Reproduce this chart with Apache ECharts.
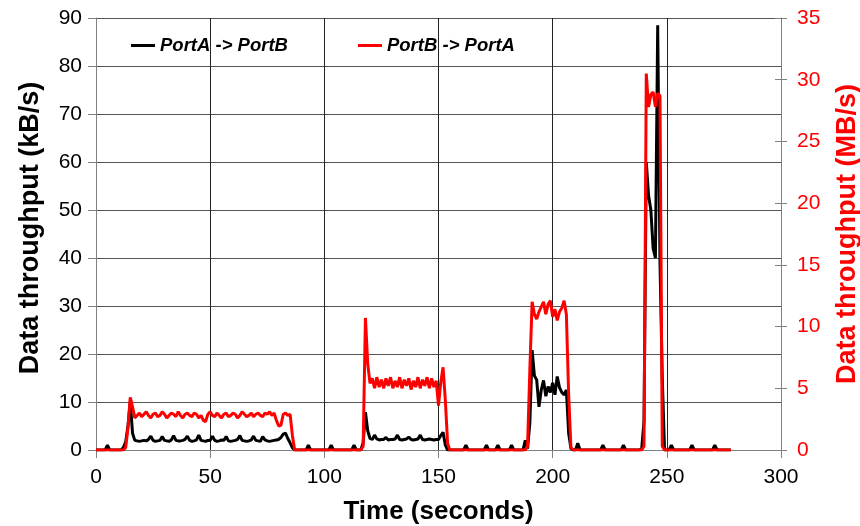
<!DOCTYPE html>
<html>
<head>
<meta charset="utf-8">
<script src="https://cdn.jsdelivr.net/npm/echarts@6/dist/echarts.min.js"></script>
<style>
  html, body { margin: 0; padding: 0; background: #fff; }
  #chart { width: 860px; height: 526px; }
</style>
</head>
<body>
<div id="chart"></div>
<script>
// One sample per second, starting at t = 0 s.
const sampleStep = 1;

// PortA -> PortB throughput, kB/s (left axis)
const portAtoB = [
  0, 0, 0, 0, 0, 1.0, 0, 0, 0, 0,
  0, 0, 0.5, 1.7, 5.0, 10.1, 3.5, 2.0, 1.9, 1.8,
  1.9, 2.0, 1.9, 2.2, 2.9, 2.0, 1.8, 1.9, 2.0, 2.8,
  2.0, 1.9, 1.8, 2.1, 3.0, 2.0, 1.9, 1.9, 2.0, 2.2,
  2.9, 2.0, 1.8, 1.9, 2.1, 3.1, 2.0, 1.9, 1.8, 2.0,
  2.0, 2.9, 2.0, 1.8, 1.9, 2.1, 2.0, 2.8, 1.9, 1.8,
  1.9, 2.0, 2.2, 3.0, 2.0, 1.9, 1.8, 1.9, 2.1, 2.9,
  2.0, 1.9, 1.8, 2.8, 2.1, 1.9, 1.8, 1.9, 2.0, 2.1,
  2.2, 2.6, 3.3, 3.5, 2.4, 1.5, 0.5, 0, 0, 0,
  0, 0, 0, 1.0, 0, 0, 0, 0, 0, 0,
  0, 0, 0, 1.0, 0, 0, 0, 0, 0, 0,
  0, 0, 0, 1.0, 0, 0, 0, 1.5, 7.9, 4.0,
  2.4, 2.2, 3.1, 2.3, 2.1, 2.2, 2.2, 2.6, 2.1, 2.2,
  2.2, 2.3, 3.1, 2.2, 2.1, 2.2, 2.3, 2.7, 2.2, 2.1,
  2.2, 2.3, 3.1, 2.2, 2.1, 2.2, 2.3, 2.2, 2.1, 2.2,
  2.2, 3.0, 3.7, 1.0, 0, 0, 0, 0, 0, 0,
  0, 0, 1.0, 0, 0, 0, 0, 0, 0, 0,
  0, 1.0, 0, 0, 0, 0, 1.0, 0, 0, 0,
  0, 0, 1.0, 0, 0, 0, 0, 0, 2.0, 0.3,
  5.6, 20.8, 15.5, 14.6, 9.0, 12.5, 14.5, 11.2, 13.2, 12.0,
  14.0, 11.5, 15.3, 13.0, 12.0, 11.5, 12.5, 3.5, 0.3, 0,
  0, 1.4, 0, 0, 0, 0, 0, 0, 0, 0,
  0, 0, 1.0, 0, 0, 0, 0, 0, 0, 0,
  0, 1.0, 0, 0, 0, 0, 0, 0, 0, 0.3,
  6.0, 60, 53, 50, 42, 40, 88.5, 39, 15, 0,
  0, 0, 1.0, 0, 0, 0, 0, 0, 0, 0,
  0, 1.0, 0, 0, 0, 0, 0, 0, 0, 0,
  0, 1.0, 0, 0, 0, 0, 0, 0, 0
];

// PortB -> PortA throughput, MB/s (right axis)
const portBtoA = [
  0, 0, 0, 0, 0, 0, 0, 0, 0, 0,
  0, 0, 0, 0.2, 1.8, 4.27, 3.5, 2.6, 2.8, 3.0,
  2.7, 2.9, 3.1, 2.8, 2.6, 2.9, 3.0, 2.7, 2.8, 3.1,
  2.9, 2.6, 2.8, 3.0, 2.9, 2.7, 3.1, 2.8, 2.6, 2.9,
  3.0, 2.8, 2.7, 3.0, 2.9, 2.6, 2.8, 2.4, 2.3, 2.9,
  3.1, 2.8, 2.7, 3.0, 2.8, 2.6, 2.9, 3.0, 2.7, 2.8,
  3.0, 2.9, 2.6, 2.8, 3.1, 2.9, 2.7, 2.8, 3.0, 2.7,
  2.9, 3.0, 2.8, 2.7, 3.0, 2.9, 3.1, 2.8, 3.0, 2.4,
  1.95, 2.0, 2.9, 3.0, 2.8, 2.9, 1.2, 0, 0, 0,
  0, 0, 0, 0, 0, 0, 0, 0, 0, 0,
  0, 0, 0, 0, 0, 0, 0, 0, 0, 0,
  0, 0, 0, 0, 0, 0, 0, 0.3, 10.7, 7.0,
  5.4, 5.8, 5.0, 5.9, 5.1, 5.7, 5.0, 5.8, 5.2, 5.9,
  5.0, 5.6, 5.1, 5.9, 5.0, 5.7, 5.2, 5.8, 4.9, 5.6,
  5.1, 5.9, 5.0, 5.7, 5.2, 5.9, 5.0, 5.8, 5.1, 5.6,
  3.6, 5.5, 6.7, 4.0, 0.5, 0, 0, 0, 0, 0,
  0, 0, 0, 0, 0, 0, 0, 0, 0, 0,
  0, 0, 0, 0, 0, 0, 0, 0, 0, 0,
  0, 0, 0, 0, 0, 0, 0, 0, 0, 0.3,
  6.5, 12.0, 11.0, 10.6, 11.2, 11.6, 12.0, 11.0, 11.8, 12.1,
  10.8, 11.4, 10.5, 11.2, 11.5, 12.1, 11.0, 4.5, 0.2, 0,
  0, 0, 0, 0, 0, 0, 0, 0, 0, 0,
  0, 0, 0, 0, 0, 0, 0, 0, 0, 0,
  0, 0, 0, 0, 0, 0, 0, 0, 0, 0,
  0.3, 30.5, 27.8, 28.8, 29.0, 27.8, 28.9, 28.7, 0.3, 0,
  0, 0, 0, 0, 0, 0, 0, 0, 0, 0,
  0, 0, 0, 0, 0, 0, 0, 0, 0, 0,
  0, 0, 0, 0, 0, 0, 0, 0, 0
];

const seriesNames = ['PortA -> PortB', 'PortB -> PortA'];
const timeTicks = [0, 300, 50];      // min, max, step (s)
const leftTicks = [0, 90, 10];       // kB/s
const rightTicks = [0, 35, 5];       // MB/s

const FONT = '"Liberation Sans", Arial, sans-serif';
const toPoints = arr => arr.map((v, i) => [i * sampleStep, v]);

const chart = echarts.init(document.getElementById('chart'), null, { renderer: 'canvas' });

chart.setOption({
  animation: false,
  backgroundColor: '#ffffff',
  textStyle: { fontFamily: FONT },
  grid: { left: 96, right: 79, top: 18, bottom: 76, containLabel: false, outerBoundsMode: 'none' },
  legend: {
    data: [
      { name: seriesNames[0], icon: 'rect' },
      { name: seriesNames[1], icon: 'rect' }
    ],
    left: 131, top: 36, padding: 0,
    itemWidth: 24, itemHeight: 3, itemGap: 70,
    textStyle: { fontFamily: FONT, fontSize: 18.5, fontWeight: 'bold', fontStyle: 'italic', color: '#000' }
  },
  xAxis: {
    type: 'value',
    min: timeTicks[0], max: timeTicks[1], interval: timeTicks[2],
    name: 'Time (seconds)', nameLocation: 'middle', nameGap: 49,
    nameTextStyle: { fontFamily: FONT, fontSize: 26, fontWeight: 'bold', color: '#000' },
    axisLine: { show: true, lineStyle: { color: '#808080', width: 1 } },
    axisTick: { show: true, length: 8, lineStyle: { color: '#808080' } },
    axisLabel: { fontFamily: FONT, fontSize: 21, color: '#000', margin: 17 },
    splitLine: { show: true, lineStyle: { color: '#222', width: 1 } }
  },
  yAxis: [
    {
      type: 'value', position: 'left',
      min: leftTicks[0], max: leftTicks[1], interval: leftTicks[2],
      name: 'Data throughput (kB/s)', nameLocation: 'middle', nameGap: 52, nameRotate: 90,
      nameTextStyle: { fontFamily: FONT, fontSize: 27, fontWeight: 'bold', color: '#000', padding: [0, 0, 0, 12] },
      axisLine: { show: true, lineStyle: { color: '#808080', width: 1 } },
      axisTick: { show: true, length: 8, lineStyle: { color: '#808080' } },
      axisLabel: { fontFamily: FONT, fontSize: 21, color: '#000', margin: 14 },
      splitLine: { show: true, lineStyle: { color: '#555', width: 1 } }
    },
    {
      type: 'value', position: 'right',
      min: rightTicks[0], max: rightTicks[1], interval: rightTicks[2],
      name: 'Data throughput (MB/s)', nameLocation: 'middle', nameGap: 53, nameRotate: 90,
      nameTextStyle: { fontFamily: FONT, fontSize: 27, fontWeight: 'bold', color: '#ff0000' },
      axisLine: { show: true, lineStyle: { color: '#808080', width: 1 } },
      axisTick: { show: true, length: 6, lineStyle: { color: '#808080' } },
      axisLabel: { fontFamily: FONT, fontSize: 21, color: '#ff0000', margin: 16 },
      splitLine: { show: false }
    },
    {
      // inner half of the right-axis tick marks
      type: 'value', position: 'right',
      min: rightTicks[0], max: rightTicks[1], interval: rightTicks[2],
      axisLine: { show: false },
      axisTick: { show: true, inside: true, length: 6, lineStyle: { color: '#808080' } },
      axisLabel: { show: false },
      splitLine: { show: false }
    }
  ],
  series: [
    {
      name: seriesNames[0], type: 'line', yAxisIndex: 0,
      data: toPoints(portAtoB),
      showSymbol: false, symbol: 'none',
      lineStyle: { color: '#000000', width: 3 },
      itemStyle: { color: '#000000' },
      z: 3
    },
    {
      name: seriesNames[1], type: 'line', yAxisIndex: 1,
      data: toPoints(portBtoA),
      showSymbol: false, symbol: 'none',
      lineStyle: { color: '#ff0000', width: 3 },
      itemStyle: { color: '#ff0000' },
      z: 4
    }
  ]
});
</script>
</body>
</html>
